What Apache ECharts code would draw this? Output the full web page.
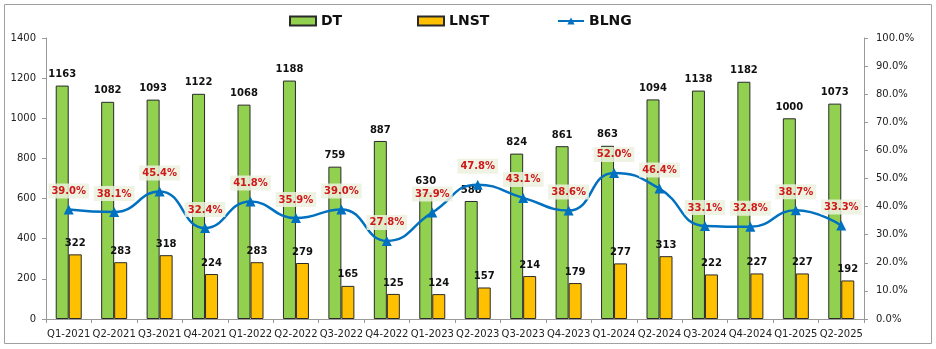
<!DOCTYPE html>
<html><head><meta charset="utf-8">
<script src="https://cdn.jsdelivr.net/npm/echarts@6/dist/echarts.min.js"></script>
<style>html,body{margin:0;padding:0;background:#fff}#c{width:936px;height:349px}</style>
</head><body><div id="c"></div>
<script>
const categories = ['Q1-2021','Q2-2021','Q3-2021','Q4-2021','Q1-2022','Q2-2022','Q3-2022','Q4-2022','Q1-2023','Q2-2023','Q3-2023','Q4-2023','Q1-2024','Q2-2024','Q3-2024','Q4-2024','Q1-2025','Q2-2025'];
const dtValues = [1163,1082,1093,1122,1068,1188,759,887,630,588,824,861,863,1094,1138,1182,1000,1073];
const lnstValues = [322,283,318,224,283,279,165,125,124,157,214,179,277,313,222,227,227,192];
const blngValues = [39.0,38.1,45.4,32.4,41.8,35.9,39.0,27.8,37.9,47.8,43.1,38.6,52.0,46.4,33.1,32.8,38.7,33.3];
const leftTicks = {min:0, max:1400, interval:200};
const rightTicks = {min:0, max:100, interval:10};

const font = 'DejaVu Sans';
const chart = echarts.init(document.getElementById('c'));
const legendText = {fontFamily:font, fontWeight:'bold', fontSize:14, color:'#111'};
chart.setOption({
  animation:false,
  graphic:[{type:'rect', shape:{x:4.5,y:4.5,width:927,height:339}, style:{fill:'none', stroke:'#a0a0a0', lineWidth:1}, silent:true}],
  legend:[
    {data:[{name:'DT', icon:'rect'}], left:289, top:14, itemWidth:26, itemHeight:9, itemGap:4, textStyle:legendText, padding:0},
    {data:[{name:'LNST', icon:'rect'}], left:417, top:14, itemWidth:26, itemHeight:9, textStyle:legendText, padding:0},
    {data:['BLNG'], left:557, top:14, itemWidth:26, itemHeight:9, textStyle:legendText, padding:0}
  ],
  grid:{left:46, right:72, top:38, bottom:30},
  xAxis:{type:'category', data:categories,
    axisLine:{lineStyle:{color:'#999'}},
    axisTick:{show:true, length:4, lineStyle:{color:'#999'}},
    axisLabel:{fontFamily:font, fontSize:10, color:'#222', margin:10, interval:0}},
  yAxis:[
    {type:'value', min:leftTicks.min, max:leftTicks.max, interval:leftTicks.interval,
     axisLine:{show:true, lineStyle:{color:'#999'}}, axisTick:{show:true, length:4, lineStyle:{color:'#999'}},
     splitLine:{show:false}, axisLabel:{fontFamily:font, fontSize:10, color:'#222', margin:10, formatter:v=>String(v)}},
    {type:'value', min:rightTicks.min, max:rightTicks.max, interval:rightTicks.interval,
     axisLine:{show:true, lineStyle:{color:'#999'}}, axisTick:{show:true, length:4, lineStyle:{color:'#999'}},
     splitLine:{show:false}, axisLabel:{fontFamily:font, fontSize:10, color:'#222', margin:12, formatter:v=>v.toFixed(1)+'%'}}
  ],
  series:[
    {name:'DT', type:'bar', data:dtValues, barWidth:13, barGap:'0%',
     itemStyle:{color:'#92D050', borderColor:'#2a2a2a', borderWidth:1},
     label:{show:true, position:'top', distance:6, fontFamily:font, fontWeight:'bold', fontSize:10, color:'#111'}},
    {name:'LNST', type:'bar', data:lnstValues, barWidth:13, barGap:'0%',
     itemStyle:{color:'#FFC000', borderColor:'#2a2a2a', borderWidth:1},
     label:{show:true, position:'top', distance:6, fontFamily:font, fontWeight:'bold', fontSize:10, color:'#111'}},
    {name:'BLNG', type:'line', yAxisIndex:1, data:blngValues, smooth:0.5,
     symbol:'triangle', symbolSize:10,
     lineStyle:{color:'#0070C0', width:2.5}, itemStyle:{color:'#0070C0'},
     label:{show:true, position:'top', distance:6, fontFamily:font, fontWeight:'bold', fontSize:10, color:'#D01818',
       backgroundColor:'rgba(235,241,222,0.85)', padding:[3,3,2,3], formatter:p=>p.value.toFixed(1)+'%'}, z:5}
  ]
});
</script></body></html>
